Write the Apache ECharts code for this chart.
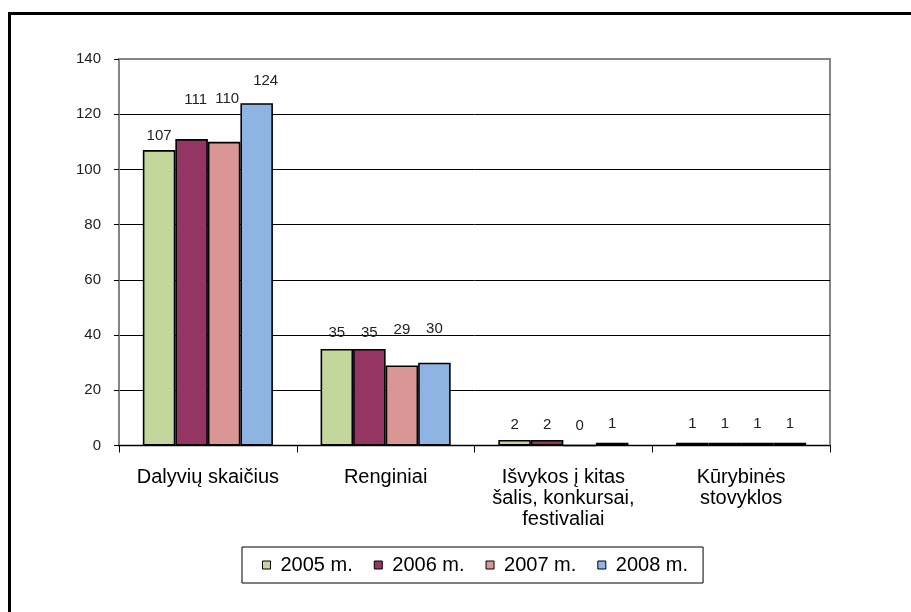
<!DOCTYPE html>
<html>
<head>
<meta charset="utf-8">
<script src="https://cdn.jsdelivr.net/npm/echarts@6/dist/echarts.min.js"></script>
<style>
html,body{margin:0;padding:0;background:#fff;}
#chart{width:911px;height:612px;}
</style>
</head>
<body>
<div id="chart"></div>
<script>
// ---- data ----
const categories = ["Dalyvių skaičius", "Renginiai", "Išvykos į kitas\nšalis, konkursai,\nfestivaliai", "Kūrybinės\nstovyklos"];
const seriesNames = ["2005 m.", "2006 m.", "2007 m.", "2008 m."];
const values2005 = [107, 35, 2, 1];
const values2006 = [111, 35, 2, 1];
const values2007 = [110, 29, 0, 1];
const values2008 = [124, 30, 1, 1];
const yTicks = [0, 20, 40, 60, 80, 100, 120, 140];

// ---- style ----
const colors = ["#C3D69B", "#953564", "#DA9694", "#8EB4E3"];
// label nudges [dx, dy] per series per category (Excel label placement)
const labelNudge = [
  [[0,-2],[0,-4],[0,-3],[0,-6]],
  [[4,-27],[0,-4],[0,-3],[0,-6]],
  [[3,-30],[0,-23],[0,-6],[0,-6]],
  [[9,-10],[0,-21],[0,-6],[0,-6]]
];
const allValues = [values2005, values2006, values2007, values2008];

const chart = echarts.init(document.getElementById('chart'), null, {renderer:'canvas'});
const FONT = '"Liberation Sans", Arial, sans-serif';

const series = allValues.map((vals, si) => ({
  name: seriesNames[si],
  type: 'bar',
  barGap: '0%',
  barCategoryGap: '26.8%',
  itemStyle: { color: colors[si], borderColor: '#000', borderWidth: 1.6 },
  data: vals.map((v, ci) => ({
    value: v,
    label: { offset: labelNudge[si][ci] }
  })),
  label: {
    show: true, position: 'top', distance: 5,
    fontFamily: FONT, fontSize: 15, color: '#222'
  },
  emphasis: { disabled: true }
}));

chart.setOption({
  animation: false,
  backgroundColor: '#fff',
  color: colors,
  textStyle: { fontFamily: FONT },
  graphic: [{
    type: 'rect', silent: true, z: 100,
    shape: { x: 9.5, y: 13.5, width: 1200, height: 1200 },
    style: { fill: 'none', stroke: '#000', lineWidth: 3 }
  }],
  grid: {
    left: 119, right: 81, top: 59, bottom: 166.5,
    show: true, borderColor: '#868686', borderWidth: 2, containLabel: false
  },
  legend: {
    left: 242, top: 547,
    orient: 'horizontal',
    data: seriesNames,
    icon: 'rect',
    itemWidth: 8, itemHeight: 8, itemGap: 21,
    padding: [8, 15, 8, 20],
    borderColor: '#000', borderWidth: 1,
    itemStyle: { borderColor: '#000', borderWidth: 1 },
    textStyle: { fontFamily: FONT, fontSize: 20, color: '#000', lineHeight: 19, padding: [0, 0, 0, 5] }
  },
  xAxis: {
    type: 'category',
    data: categories,
    axisLine: { show: true, lineStyle: { color: '#000', width: 1 } },
    axisTick: { show: true, length: 7, inside: false, lineStyle: { color: '#000' } },
    axisLabel: { fontFamily: FONT, fontSize: 20, lineHeight: 21, color: '#000', margin: 21, interval: 0 },
    splitLine: { show: false }
  },
  yAxis: {
    type: 'value',
    min: yTicks[0], max: yTicks[yTicks.length - 1], interval: yTicks[1] - yTicks[0],
    axisLine: { show: true, lineStyle: { color: '#868686', width: 2 } },
    axisTick: { show: true, length: 5, inside: false, lineStyle: { color: '#000' } },
    axisLabel: { fontFamily: FONT, fontSize: 15, color: '#222', margin: 18 },
    splitLine: { show: true, showMaxLine: false, showMinLine: false, lineStyle: { color: '#000', width: 1 } }
  },
  series: series
});
</script>
</body>
</html>
